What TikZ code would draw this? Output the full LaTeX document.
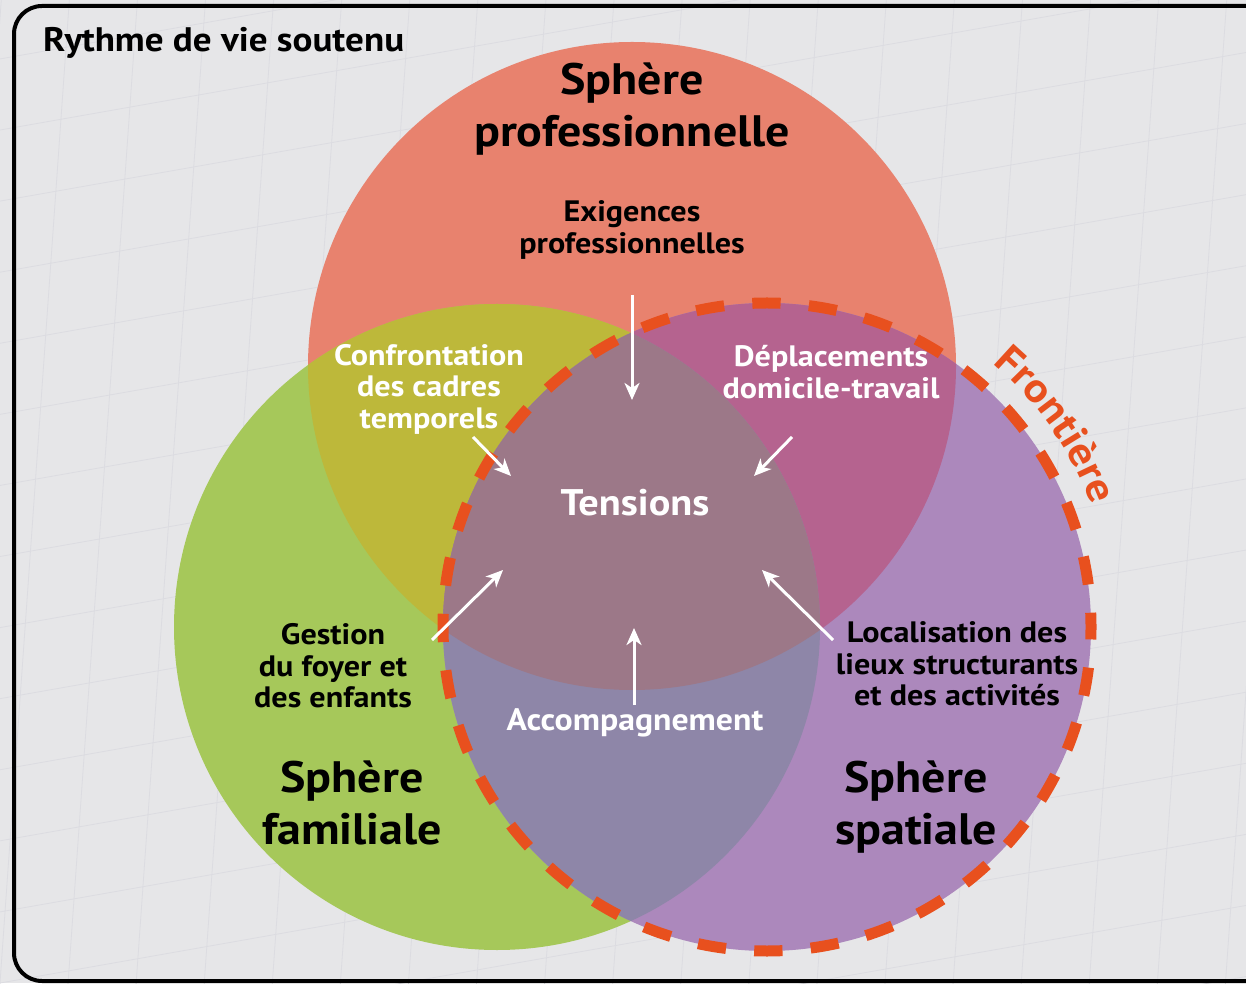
\documentclass[tikz,border=0pt]{standalone}
\usepackage{fontspec}
\setmainfont{PT Sans}[FakeStretch=1.09]
\usetikzlibrary{arrows.meta,decorations.text}
\definecolor{bgc}{HTML}{E6E6E8}
\definecolor{gridc}{HTML}{DCDCE1}
\definecolor{cR}{HTML}{E8826E}
\definecolor{cG}{HTML}{A6C85A}
\definecolor{cP}{HTML}{AC88BC}
\definecolor{cRG}{HTML}{BDB83A}
\definecolor{cRP}{HTML}{B5638F}
\definecolor{cGP}{HTML}{8E86A8}
\definecolor{cRGP}{HTML}{9C7888}
\definecolor{front}{HTML}{E8501E}
\tikzset{
  lbl/.style={font=\bfseries\fontsize{29.5}{31.5}\selectfont, align=center, inner sep=0pt},
  wlbl/.style={lbl, text=white},
  biglbl/.style={font=\bfseries\fontsize{44}{51.5}\selectfont, align=center, inner sep=0pt},
  arr/.style={white, line width=3pt, -{Stealth[length=17pt,width=15pt,inset=5pt]}},
  frontier/.style={draw=front, line width=11pt, dash pattern=on 28.3pt off 28.3pt, dash phase=14pt},
}
\begin{document}
\begin{tikzpicture}[x=1pt,y=1pt]
\useasboundingbox (0,0) rectangle (1246,983);
\clip (0,0) rectangle (1246,983);
\fill[bgc] (0,0) rectangle (1246,983);
\begin{scope}
  \draw[gridc, line width=0.8pt, rotate=10, xslant=0.25, step=70] (-600,-600) grid (2000,1600);
\end{scope}
\draw[black, line width=4pt, rounded corners=28pt] (14,2) rectangle (1300,977);

% circles
\coordinate (cr) at (632,617);
\coordinate (cg) at (497,356);
\coordinate (cp) at (767,356);
\fill[cR] (cr) circle[radius=324];
\fill[cG] (cg) circle[radius=323];
\fill[cP] (cp) circle[radius=324];
\begin{scope}\clip (cr) circle[radius=324]; \fill[cRG] (cg) circle[radius=323];\end{scope}
\begin{scope}\clip (cr) circle[radius=324]; \fill[cRP] (cp) circle[radius=324];\end{scope}
\begin{scope}\clip (cg) circle[radius=323]; \fill[cGP] (cp) circle[radius=324];\end{scope}
\begin{scope}\clip (cr) circle[radius=324]; \clip (cg) circle[radius=323]; \fill[cRGP] (cp) circle[radius=324];\end{scope}

% frontier
\draw[frontier] (cp) circle[radius=324];
\path[decorate, decoration={text along path, text align=center, text color=front,
  text={|\bfseries\fontsize{41}{41}\selectfont|Frontière}}]
  (cp) ++(58:347) arc[start angle=58, end angle=12, radius=347];

% labels
\node[anchor=base west, font=\bfseries\fontsize{34}{40}\selectfont, inner sep=0pt] (title) at (43,931) {Rythme de vie soutenu};
\node[biglbl] (pro) at (632,874) {Sphère\\professionnelle};
\node[lbl] (exi) at (632,753) {Exigences\\professionnelles};
\node[wlbl] (conf) at (429,594) {Confrontation\\des cadres\\temporels};
\node[wlbl] (dep) at (831,611) {Déplacements\\domicile-travail};
\node[wlbl, font=\bfseries\fontsize{37}{42}\selectfont] (tens) at (635,480) {Tensions};
\node[lbl] (gest) at (333,317) {Gestion\\du foyer et\\des enfants};
\node[lbl] (loc) at (957,319) {Localisation des\\lieux structurants\\et des activités};
\node[wlbl, font=\bfseries\fontsize{31}{34}\selectfont] (acc) at (635,260) {Accompagnement};
\node[biglbl] (fam) at (352,180) {Sphère\\familiale};
\node[biglbl] (spa) at (916,176) {Sphère\\spatiale};

% arrows
\coordinate (a1s) at (632,688); \coordinate (a1e) at (632,583);
\coordinate (a2s) at (473,546); \coordinate (a2e) at (511,507);
\coordinate (a3s) at (792,546); \coordinate (a3e) at (754,507);
\coordinate (a4s) at (432,343); \coordinate (a4e) at (503,413);
\coordinate (a5s) at (833,343); \coordinate (a5e) at (762,413);
\coordinate (a6s) at (634,278); \coordinate (a6e) at (634,355);
\draw[arr] (a1s) -- (a1e);
\draw[arr] (a2s) -- (a2e);
\draw[arr] (a3s) -- (a3e);
\draw[arr] (a4s) -- (a4e);
\draw[arr] (a5s) -- (a5e);
\draw[arr] (a6s) -- (a6e);
\end{tikzpicture}
\end{document}
